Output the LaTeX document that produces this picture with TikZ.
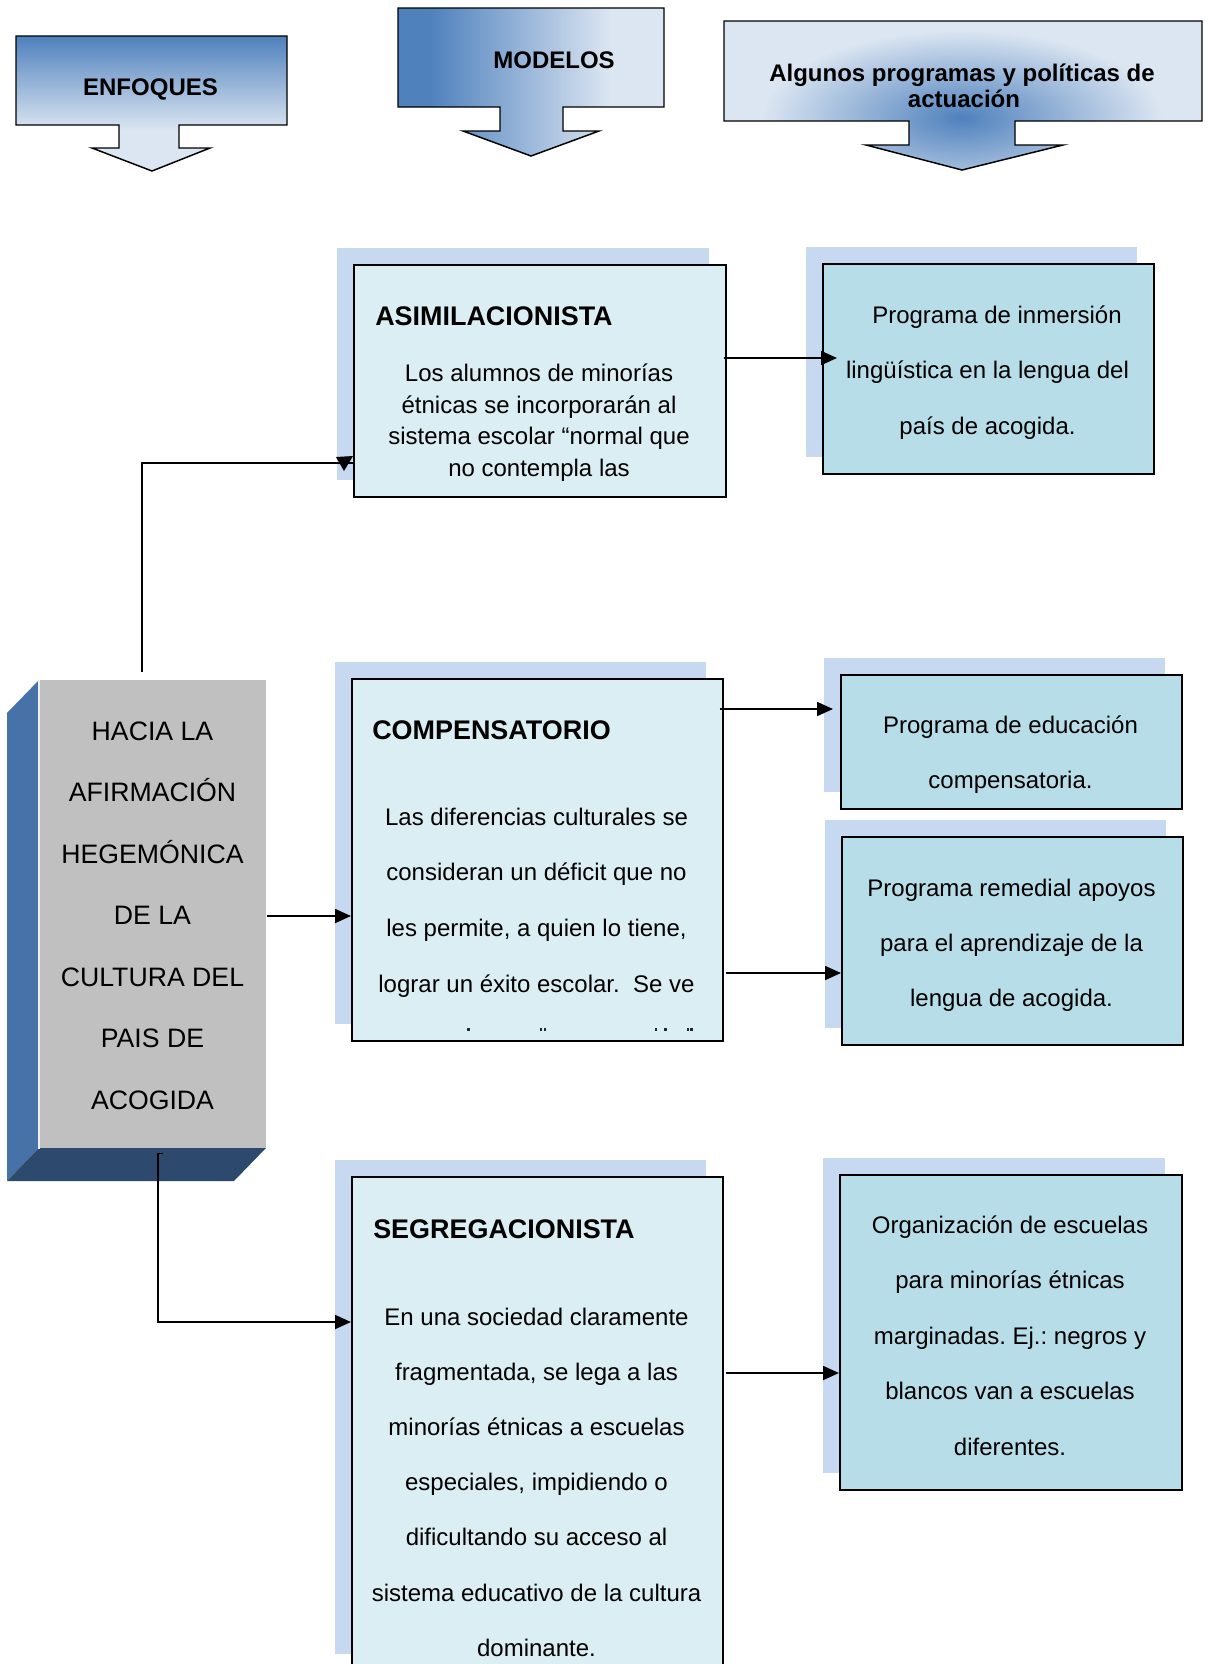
\documentclass[tikz,border=0pt]{standalone}
\usepackage{fontspec}
\setmainfont{Liberation Sans}
\usetikzlibrary{arrows.meta,calc,shadows}
\frenchspacing

\definecolor{hdrdark}{HTML}{4F81BD}
\definecolor{hdrlight}{HTML}{DCE6F2}
\definecolor{shadowblue}{HTML}{C6D9F1}
\definecolor{modelfill}{HTML}{DBEEF3}
\definecolor{progfill}{HTML}{B7DDE8}
\definecolor{frontgray}{HTML}{C0C0C0}
\definecolor{sideblue}{HTML}{4672A8}
\definecolor{basenavy}{HTML}{2D4A6E}

% gradients of the three header arrows
\pgfdeclareverticalshading{enfshade}{100bp}{color(0bp)=(hdrlight); color(40bp)=(hdrlight); color(75bp)=(hdrdark); color(100bp)=(hdrdark)}
\pgfdeclarehorizontalshading{modshade}{100bp}{color(0bp)=(hdrdark); color(31bp)=(hdrdark); color(65bp)=(hdrlight); color(100bp)=(hdrlight)}

\begin{document}
\begin{tikzpicture}[x=0.75pt, y=-0.75pt,
  hdrline/.style={draw=black, line width=1.1pt},
  hdrtxt/.style={font=\bfseries\fontsize{18}{20}\selectfont, anchor=base, inner sep=0pt},
  boxbase/.style={draw=black, line width=1.3pt, inner sep=0pt, anchor=north west,
    general shadow={fill=shadowblue, shadow xshift=-12.75pt, shadow yshift=12.75pt}},
  modelbox/.style={boxbase, fill=modelfill},
  progbox/.style={boxbase, fill=progfill},
  sz/.style 2 args={minimum width=#1*0.75pt, minimum height=#2*0.75pt},
  titletxt/.style={font=\bfseries\fontsize{20.2}{22}\selectfont, anchor=base west, inner sep=0pt},
  bodytxt/.style={font=\fontsize{18}{20}\selectfont, anchor=base, inner sep=0pt},
  lefttxt/.style={font=\fontsize{20}{22}\selectfont, anchor=base, inner sep=0pt},
  conn/.style={draw=black, line width=1.3pt},
  arrowed/.style={-{Triangle[length=12pt, width=10.5pt]}}
]
\fill[white] (0,0) rectangle (1207,1664);
\useasboundingbox (0,0) rectangle (1207,1664);

% ---- header arrows ----
\def\enfpath{(16,36) -- (287,36) -- (287,125) -- (179,125) -- (179,148) -- (210,148) -- (152,171) -- (92,148) -- (119,148) -- (119,125) -- (16,125) -- cycle}
\def\modpath{(398,8) -- (664,8) -- (664,107) -- (563,107) -- (563,131) -- (599,131) -- (531,156) -- (463,131) -- (500,131) -- (500,107) -- (398,107) -- cycle}
\def\algpath{(724,21) -- (1202,21) -- (1202,121) -- (1015,121) -- (1015,145) -- (1063,145) -- (962,170) -- (866,145) -- (909,145) -- (909,121) -- (724,121) -- cycle}

\shade[shading=enfshade] \enfpath;
\draw[hdrline] \enfpath;
\shade[shading=modshade] \modpath;
\draw[hdrline] \modpath;
\begin{scope}
  \clip \algpath;
  \fill[hdrlight] (724,21) rectangle (1202,170);
  \shade[inner color=hdrdark, outer color=hdrlight] (962,118) ellipse [x radius=150pt, y radius=66pt];
\end{scope}
\draw[hdrline] \algpath;

\node[hdrtxt] (enfT) at (150.5,95) {ENFOQUES};
\node[hdrtxt] (modT) at (554,68) {MODELOS};
\node[hdrtxt] (algT1) at (962,81) {Algunos programas y políticas de};
\node[hdrtxt] (algT2) at (964,107) {actuación};

% ---- left block with 3-D sides ----
\fill[sideblue] (7,713) -- (39,680) -- (39,1148) -- (7,1181) -- cycle;
\fill[basenavy] (7,1181) -- (39,1148) -- (266,1148) -- (234,1181) -- cycle;
\node[fill=frontgray, inner sep=0pt, anchor=north west, sz={227}{468}] (hacia) at (39,680) {};
\draw[white!75!frontgray, line width=0.8pt] (hacia.north west) -- (hacia.south west);
\foreach \linetext [count=\i] in {HACIA LA, AFIRMACIÓN, HEGEMÓNICA, DE LA, CULTURA DEL, PAIS DE, ACOGIDA}
  \node[lefttxt] (haciaL\i) at (152.5,{740+61.5*(\i-1)}) {\linetext};

% ---- model boxes ----
\node[modelbox, sz={372}{232}] (asim) at (353,264) {};
\node[modelbox, sz={371}{362}] (comp) at (351,678) {};
\node[modelbox, sz={371}{494}] (segr) at (351,1176) {};

% ---- programme boxes ----
\node[progbox, sz={331}{210}] (inm) at (822,263) {};
\node[progbox, sz={341}{134}] (edu) at (840,674) {};
\node[progbox, sz={341}{208}] (rem) at (841,836) {};
\node[progbox, sz={342}{315}] (org) at (839,1174) {};

% ---- texts of the model boxes ----
\node[titletxt] (asimH) at (375,325) {ASIMILACIONISTA};
\foreach \linetext [count=\i] in {Los alumnos de minorías, étnicas se incorporarán al, sistema escolar “normal que, no contempla las}
  \node[bodytxt] (asimL\i) at (539,{381.5+31.5*(\i-1)}) {\linetext};

\node[titletxt] (compH) at (372,739) {COMPENSATORIO};
\foreach \linetext [count=\i] in {Las diferencias culturales se, consideran un déficit que no, {les permite, a quien lo tiene,}, {lograr un éxito escolar.~ Se ve}}
  \node[bodytxt] (compL\i) at (536.5,{825+55.7*(\i-1)}) {\linetext};
% tops of the next line, cut by the lower edge of the box
\fill[black!85] (467,1028) rectangle (469.5,1030.5);
\fill[black!85] (540,1028) rectangle (542,1030.5);
\fill[black!85] (543.5,1028) rectangle (545.5,1030.5);
\fill[black!85] (654.5,1028) rectangle (656.5,1030.5);
\fill[black!85] (664,1028) rectangle (667,1030.5);
\fill[black!85] (686.5,1028) rectangle (689,1030.5);
\fill[black!85] (690,1028) rectangle (692.5,1030.5);

\node[titletxt] (segrH) at (373,1238) {SEGREGACIONISTA};
\foreach \linetext [count=\i] in {En una sociedad claramente, {fragmentada, se lega a las}, minorías étnicas a escuelas, {especiales, impidiendo o}, dificultando su acceso al, sistema educativo de la cultura, dominante.}
  \node[bodytxt] (segrL\i) at (536.5,{1325+55.2*(\i-1)}) {\linetext};

% ---- texts of the programme boxes ----
\node[bodytxt] (inmL1) at (997,323) {Programa de inmersión};
\node[bodytxt] (inmL2) at (987.5,378) {lingüística en la lengua del};
\node[bodytxt] (inmL3) at (987.5,434) {país de acogida.};

\node[bodytxt] (eduL1) at (1010.5,733) {Programa de educación};
\node[bodytxt] (eduL2) at (1010.5,788) {compensatoria.};

\foreach \linetext [count=\i] in {Programa remedial apoyos, para el aprendizaje de la, lengua de acogida.}
  \node[bodytxt] (remL\i) at (1011.5,{896+55*(\i-1)}) {\linetext};

\foreach \linetext [count=\i] in {Organización de escuelas, para minorías étnicas, marginadas. Ej.: negros y, blancos van a escuelas, diferentes.}
  \node[bodytxt] (orgL\i) at (1010,{1233+55.5*(\i-1)}) {\linetext};

% ---- connectors ----
\draw[conn] ([shift={(-10.5,-8)}]hacia.north) |- ($(asim.north west)+(0,199)$);
\fill ($(asim.north west)+(-17,193)$) -- ($(asim.north west)+(0,192)$) -- ($(asim.north west)+(-9,207)$) -- cycle;

\coordinate (h2) at ($(hacia.north east)+(0,236)$);
\draw[conn, arrowed] (h2) -- (h2 -| comp.west);

\coordinate (h3) at ($(hacia.south)+(10,5)$);
\draw[conn, arrowed] (h3) -- ++(-5,0) |- ($(segr.north west)+(0,146)$);

\coordinate (a4) at ($(asim.north east)+(-3,94)$);
\draw[conn, arrowed] (a4) -- ($(a4 -| inm.west)+(15,0)$);

\coordinate (a5) at ($(comp.north east)+(-4,31)$);
\draw[conn, arrowed] (a5) -- ($(a5 -| edu.west)+(-7,0)$);

\coordinate (a6) at ($(comp.north east)+(2,295)$);
\draw[conn, arrowed] (a6) -- (a6 -| rem.west);

\coordinate (a7) at ($(segr.north east)+(2,197)$);
\draw[conn, arrowed] (a7) -- (a7 -| org.west);
\end{tikzpicture}
\end{document}
